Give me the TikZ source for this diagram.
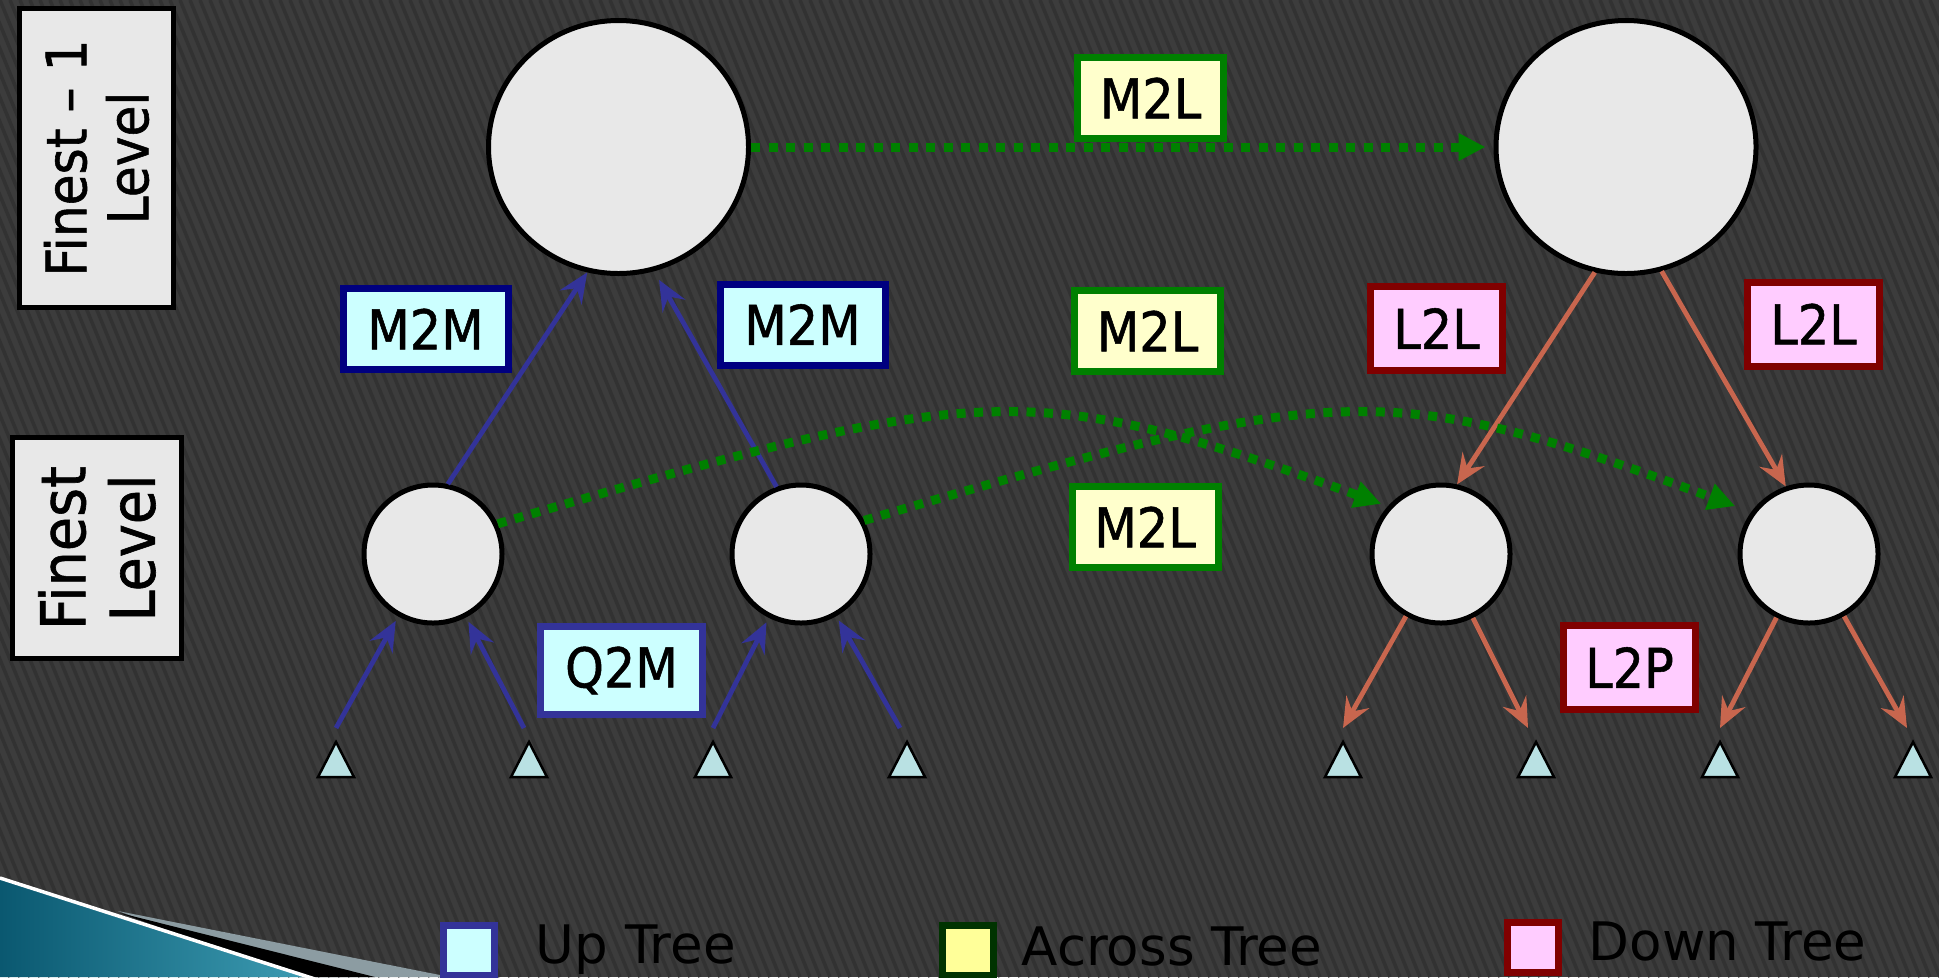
\documentclass[tikz,border=0pt]{standalone}
\usepackage{fontspec}
\setmainfont{DejaVu Sans}[FakeStretch=0.9,FakeBold=1]
\newfontfamily\keyfamily{DejaVu Sans}
\usetikzlibrary{arrows.meta,shapes.geometric}

\definecolor{slate}{HTML}{3C3C3C}
\definecolor{stripegray}{HTML}{323232}
\definecolor{cellgray}{HTML}{E8E8E8}
\definecolor{leaffill}{HTML}{B9E1E3}
\definecolor{upline}{HTML}{333399}
\definecolor{navyline}{HTML}{000080}
\definecolor{upfill}{HTML}{CCFFFF}
\definecolor{m2lgreen}{HTML}{008000}
\definecolor{acrossfill}{HTML}{FFFFCC}
\definecolor{keygreen}{HTML}{003300}
\definecolor{keyfill}{HTML}{FFFF99}
\definecolor{downline}{HTML}{800000}
\definecolor{downfill}{HTML}{FFCCFF}
\definecolor{l2lred}{HTML}{C8664E}
\definecolor{tealdark}{HTML}{0A5870}
\definecolor{teallight}{HTML}{3D9DB4}
\definecolor{sliver}{HTML}{8C9CA2}

\newcommand\opfont{\fontsize{15.6}{18}\selectfont}
\newcommand\keyfont{\keyfamily\fontsize{15.1}{18}\selectfont}
\newcommand\lvlfont{\fontsize{15.9}{17.6}\selectfont}
\newcommand\lvlbigfont{\fontsize{17.6}{19.8}\selectfont}

\tikzset{
  cell/.style={circle,draw=black,line width=0.5mm,fill=cellgray,minimum size=13.8mm,inner sep=0pt},
  bigcell/.style={ellipse,draw=black,line width=0.5mm,fill=cellgray,minimum width=26mm,minimum height=25.3mm,inner sep=0pt},
  op/.style={draw,line width=0.7mm,inner sep=0pt,font=\opfont},
  upop/.style={op,draw=navyline,fill=upfill,minimum width=16.5mm,minimum height=8.1mm},
  acrossop/.style={op,draw=m2lgreen,fill=acrossfill,minimum width=14.6mm,minimum height=8.1mm},
  downop/.style={op,draw=downline,fill=downfill,minimum width=13.2mm,minimum height=8.4mm},
  uparrow/.style={upline,line width=0.48mm,-{Stealth[length=3mm,width=2.6mm,inset=1.1mm]}},
  downarrow/.style={l2lred,line width=0.48mm,-{Stealth[length=3mm,width=2.6mm,inset=1.1mm]}},
  m2l/.style={m2lgreen,line width=0.9mm,dash pattern=on 0.9mm off 0.85mm,-{Triangle[length=2.7mm,width=2.6mm]}},
  leaf/.style={fill=leaffill,draw=black,line width=0.25mm},
  level/.style={draw=black,fill=cellgray,line width=0.5mm,rotate=90,align=center,inner sep=0pt},
  key/.style={line width=0.7mm,minimum width=5.1mm,minimum height=5mm,inner sep=0pt},
  keytext/.style={anchor=base west,inner sep=0pt,font=\keyfont}
}

\begin{document}
\begin{tikzpicture}[x=0.1mm,y=-0.1mm]
  \useasboundingbox (0,0) rectangle (1939,977);
  \fill[slate] (0,0) rectangle (1939,977);
  \begin{scope}
    \clip (0,0) rectangle (1939,977);
    \foreach \x in {-400,-390,...,1940}
      \draw[stripegray,line width=0.35mm] (\x,0) -- ++(400,977);
    % corner swoosh
    \fill[sliver] (118,911) -- (450,977) -- (300,977) -- cycle;
    \fill[black] (120,913) -- (375,977) -- (300,977) -- cycle;
    \shade[left color=tealdark,right color=teallight] (0,877) -- (313,977) -- (0,977) -- cycle;
    \draw[white,line width=0.35mm] (0,878) -- (315,979);
  \end{scope}

  % level tags
  \node[level,minimum width=29.9mm,minimum height=15.4mm,font=\lvlfont] (finer) at (96.5,158) {Finest – 1\\Level};
  \node[level,minimum width=22.1mm,minimum height=16.9mm,font=\lvlbigfont] (finest) at (97,548) {Finest\\Level};

  % cells
  \node[bigcell] (src) at (618.5,147) {};
  \node[bigcell] (dst) at (1626,147) {};
  \node[cell] (sa) at (433,554) {};
  \node[cell] (sb) at (801,554) {};
  \node[cell] (ta) at (1441,554) {};
  \node[cell] (tb) at (1809,554) {};

  % particles
  \foreach \n/\x/\a in {1/336/336,2/529/524,3/713/713,4/907/900,5/1343/1343,6/1536/1528,7/1720/1720,8/1913/1907} {
    \filldraw[leaf] (\x-18,777) -- (\x,742) -- (\x+18,777) -- cycle;
    \coordinate (p\n) at (\a,728);
  }

  % up tree
  \draw[uparrow,shorten >=0.5mm] (p1) -- (sa);
  \draw[uparrow,shorten >=0.5mm] (p2) -- (sa);
  \draw[uparrow,shorten >=0.5mm] (p3) -- (sb);
  \draw[uparrow,shorten >=0.5mm] (p4) -- (sb);
  \draw[uparrow] (sa.78) -- (src.256);
  \draw[uparrow,shorten >=1mm] (sb.110) -- (src.286);

  % down tree
  \draw[downarrow] (dst.256) -- (ta.77);
  \draw[downarrow] (dst.286) -- (tb.109);
  \draw[downarrow] (ta) -- (p5);
  \draw[downarrow] (ta) -- (p6);
  \draw[downarrow] (tb) -- (p7);
  \draw[downarrow] (tb) -- (p8);

  % across tree
  \draw[m2l,shorten >=0.8mm] (src) -- (dst);
  \draw[m2l,shorten >=0.7mm] (sa.25) .. controls (980,382) and (1030,377) .. (ta.138);
  \draw[m2l,shorten >=1.7mm] (sb.28) .. controls (1336,382) and (1386,377) .. (tb.144);

  % operator tags
  \node[upop] (m2ma) at (425.5,329) {M2M};
  \node[upop] (m2mb) at (802.5,324.5) {M2M};
  \node[upop,draw=upline,minimum width=16.2mm,minimum height=8.8mm] (q2m) at (621.5,670.5) {Q2M};
  \node[acrossop] (m2la) at (1150.5,98) {M2L};
  \node[acrossop] (m2lb) at (1147.5,331) {M2L};
  \node[acrossop] (m2lc) at (1145,527) {M2L};
  \node[downop] (l2la) at (1436.5,328.5) {L2L};
  \node[downop] (l2lb) at (1813.5,324) {L2L};
  \node[downop] (l2p) at (1629.5,667.5) {L2P};

  % legend
  \node[key,draw=upline,fill=upfill] (kup) at (469,950) {};
  \node[keytext] (tup) at (535,963) {Up Tree};
  \node[key,draw=keygreen,fill=keyfill] (kacross) at (967.5,950.5) {};
  \node[keytext] (tacross) at (1021,965) {Across Tree};
  \node[key,draw=downline,fill=downfill] (kdown) at (1532.5,947.5) {};
  \node[keytext] (tdown) at (1588,960) {Down Tree};
\end{tikzpicture}
\end{document}
